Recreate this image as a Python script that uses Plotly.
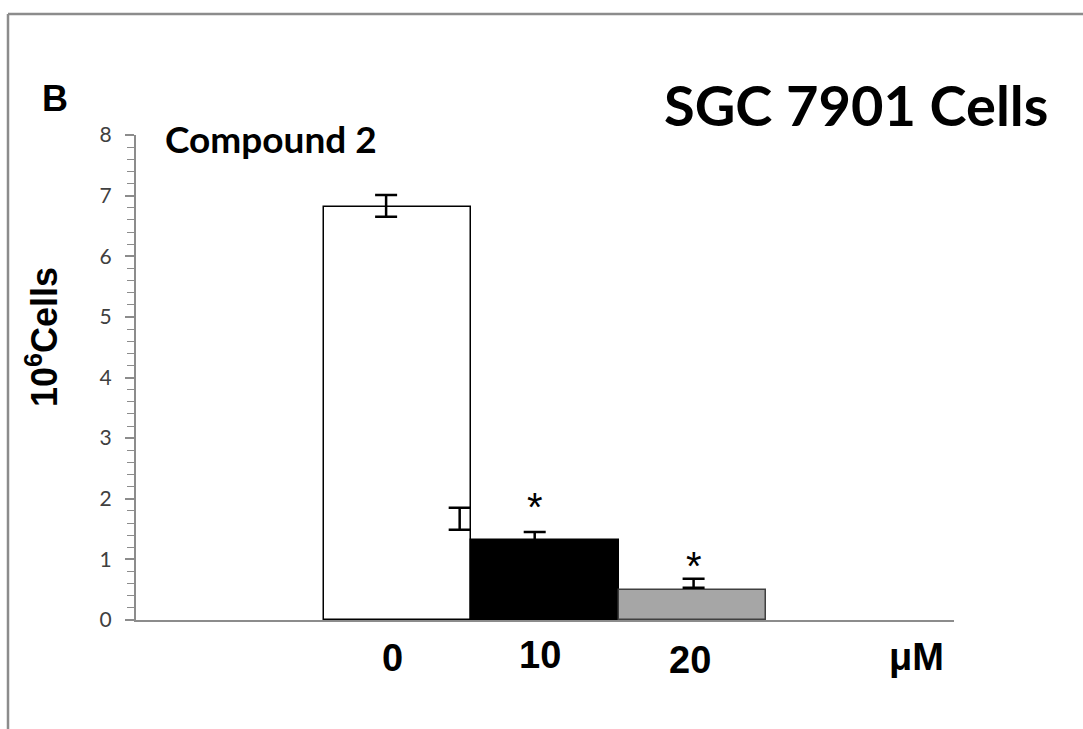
import plotly.graph_objects as go

# ---- data ----
doses = ["0", "10", "20"]
bar_pos = [0, 1, 2]
cells = [6.82, 1.32, 0.50]
bar_colors = ["#ffffff", "#000000", "#a6a6a6"]
bar_lines = ["#000000", "#000000", "#404040"]

# error bars as drawn in the figure (slightly offset from bar centres)
err_x = [-0.08, 0.42, 0.93, 2.01]
err_y = [6.83, 1.67, 1.32, 0.605]
err_sd = [0.18, 0.18, 0.13, 0.075]

star_x = [0.93, 2.01]
star_y = [1.86, 0.89]

y_ticks = [0, 1, 2, 3, 4, 5, 6, 7, 8]

W, H = 1083, 729
L, R, T, B = 136, 129, 135, 109
pw, ph = W - L - R, H - T - B

def px(x):
    return (x - L) / pw

def py(y):
    return (H - B - y) / ph

fig = go.Figure()
for xi, v, c, lc in zip(bar_pos, cells, bar_colors, bar_lines):
    fig.add_trace(go.Bar(x=[xi], y=[v], width=1.0, marker=dict(color=c, line=dict(color=lc, width=1.5)),
                         showlegend=False, hoverinfo="skip"))

fig.add_trace(go.Scatter(x=err_x, y=err_y, mode="markers",
                         marker=dict(size=1, color="rgba(0,0,0,0)"),
                         error_y=dict(type="data", array=err_sd, visible=True, color="#000000",
                                      thickness=2.5, width=11),
                         showlegend=False, hoverinfo="skip"))

fig.update_layout(
    width=W, height=H,
    margin=dict(l=L, r=R, t=T, b=B),
    plot_bgcolor="white", paper_bgcolor="white",
    bargap=0,
    xaxis=dict(range=[-1.78, 3.78], showgrid=False, zeroline=False, showticklabels=False,
               showline=True, linecolor="#8c8c8c", linewidth=2, ticks=""),
    yaxis=dict(range=[0, 8], tickvals=y_ticks, showgrid=False, zeroline=False,
               showline=True, linecolor="#8c8c8c", linewidth=2,
               ticks="outside", ticklen=9, tickwidth=1.5, tickcolor="#8c8c8c",
               ticklabelstandoff=9,
               tickfont=dict(family="Lato", size=21, color="#404040"),
               minor=dict(dtick=0.2, ticks="outside", ticklen=7, tickwidth=1.2, tickcolor="#8c8c8c")),
)

ann = []
# category labels
lab_y = [658, 655, 660]
lab_x = [392, 540, 690]
for t, x, y in zip(doses, lab_x, lab_y):
    ann.append(dict(text="<b>" + t + "</b>", x=px(x), y=py(y), xref="paper", yref="paper", showarrow=False,
                    xanchor="center", yanchor="middle",
                    font=dict(family="Liberation Sans", size=38, color="black")))
ann.append(dict(text="<b>μM</b>", x=px(916), y=py(657), xref="paper", yref="paper", showarrow=False,
                xanchor="center", yanchor="middle",
                font=dict(family="Liberation Sans", size=38, color="black")))
for sx, sy in zip(star_x, star_y):
    ann.append(dict(text="*", x=sx, y=sy, xref="x", yref="y", showarrow=False,
                    xanchor="center", yanchor="middle",
                    font=dict(family="Liberation Sans", size=40, color="black")))
ann.append(dict(text="<b>10<sup>6</sup>Cells</b>", x=px(42), y=py(337), xref="paper", yref="paper",
                showarrow=False, textangle=-90, xanchor="center", yanchor="middle",
                font=dict(family="Liberation Sans", size=36, color="black")))
ann.append(dict(text="<b>SGC 7901 Cells</b>", x=px(1050), y=py(104), xref="paper", yref="paper",
                showarrow=False, xanchor="right", yanchor="middle",
                font=dict(family="Lato", size=56, color="black")))
ann.append(dict(text="<b>Compound 2</b>", x=px(163), y=py(138), xref="paper", yref="paper",
                showarrow=False, xanchor="left", yanchor="middle",
                font=dict(family="Lato", size=37, color="black")))
ann.append(dict(text="<b>B</b>", x=px(40), y=py(98), xref="paper", yref="paper",
                showarrow=False, xanchor="left", yanchor="middle",
                font=dict(family="Liberation Sans", size=36, color="black")))
fig.update_layout(annotations=ann)

# outer frame (top and left edges)
fig.add_shape(type="line", xref="paper", yref="paper", x0=px(8), x1=px(1100), y0=py(14), y1=py(14),
              line=dict(color="#8c8c8c", width=2.5))
fig.add_shape(type="line", xref="paper", yref="paper", x0=px(8), x1=px(8), y0=py(14), y1=py(760),
              line=dict(color="#8c8c8c", width=2.5))

fig.write_html("out.html")
